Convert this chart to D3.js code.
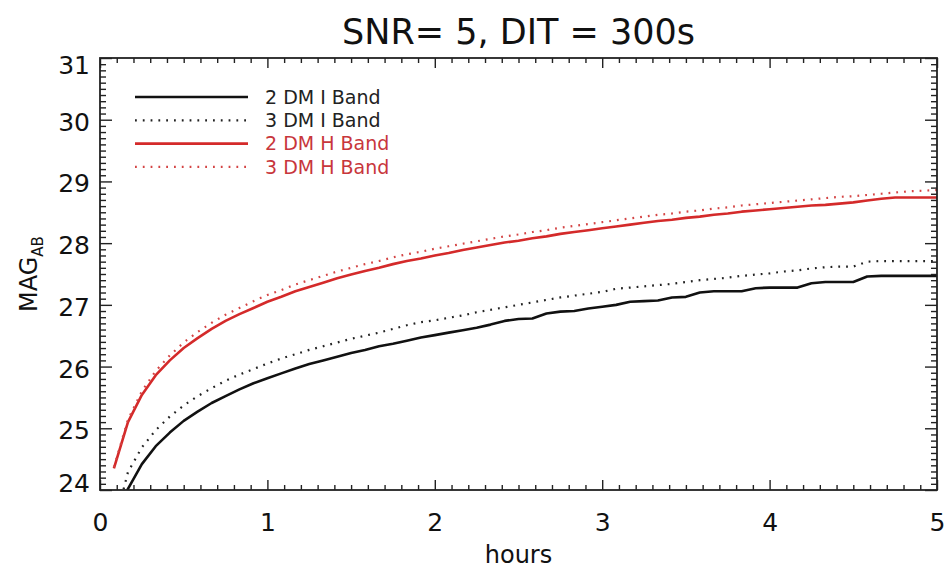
<!DOCTYPE html>
<html>
<head>
<meta charset="utf-8">
<script src="https://cdn.jsdelivr.net/npm/d3@7"></script>
<style>
  body { margin: 0; background: #fff; }
  text { font-family: "DejaVu Sans", sans-serif; }
</style>
</head>
<body>
<svg id="chart" width="945" height="571"></svg>
<script>
/// Exposure time in hours (one point per 300s DIT)
var hours = [0.083,0.167,0.250,0.333,0.417,0.500,0.583,0.667,0.750,0.833,
             0.917,1.000,1.083,1.167,1.250,1.333,1.417,1.500,1.583,1.667,
             1.750,1.833,1.917,2.000,2.083,2.167,2.250,2.333,2.417,2.500,
             2.583,2.667,2.750,2.833,2.917,3.000,3.083,3.167,3.250,3.333,
             3.417,3.500,3.583,3.667,3.750,3.833,3.917,4.000,4.083,4.167,
             4.250,4.333,4.417,4.500,4.583,4.667,4.750,4.833,4.917,5.000]

/// Limiting magnitudes
var dm2_I = [23.32,24.02,24.42,24.71,24.93,25.12,25.27,25.41,25.52,25.63,
             25.73,25.81,25.89,25.97,26.04,26.10,26.16,26.22,26.27,26.33,
             26.37,26.42,26.47,26.51,26.55,26.59,26.63,26.68,26.74,26.77,
             26.78,26.86,26.89,26.90,26.94,26.97,27.00,27.05,27.06,27.07,
             27.12,27.13,27.20,27.22,27.22,27.22,27.27,27.28,27.28,27.28,
             27.35,27.37,27.37,27.37,27.46,27.47,27.47,27.47,27.47,27.47]

var dm3_I = [23.40,24.29,24.69,24.97,25.19,25.37,25.52,25.65,25.77,25.87,
             25.96,26.05,26.13,26.20,26.27,26.33,26.39,26.45,26.50,26.55,
             26.61,26.67,26.72,26.75,26.79,26.83,26.88,26.92,26.96,27.00,
             27.04,27.08,27.12,27.15,27.18,27.21,27.26,27.28,27.30,27.32,
             27.34,27.37,27.40,27.42,27.44,27.47,27.49,27.51,27.54,27.56,
             27.59,27.61,27.62,27.62,27.70,27.71,27.71,27.71,27.71,27.71]

var dm2_H = [24.35,25.10,25.54,25.86,26.10,26.30,26.46,26.61,26.74,26.85,
             26.95,27.05,27.13,27.22,27.29,27.36,27.43,27.49,27.55,27.60,
             27.66,27.71,27.75,27.80,27.84,27.89,27.93,27.97,28.01,28.04,
             28.08,28.11,28.15,28.18,28.21,28.24,28.27,28.30,28.33,28.36,
             28.38,28.41,28.43,28.46,28.48,28.51,28.53,28.55,28.57,28.59,
             28.61,28.62,28.64,28.66,28.69,28.72,28.74,28.74,28.74,28.74]

var dm3_H = [24.37,25.14,25.60,25.93,26.18,26.39,26.56,26.71,26.84,26.95,
             27.06,27.16,27.24,27.33,27.40,27.47,27.54,27.60,27.66,27.71,
             27.77,27.82,27.86,27.91,27.95,27.99,28.03,28.07,28.11,28.14,
             28.18,28.21,28.25,28.28,28.31,28.34,28.37,28.40,28.43,28.46,
             28.48,28.51,28.53,28.56,28.58,28.61,28.63,28.65,28.67,28.69,
             28.71,28.73,28.75,28.76,28.78,28.80,28.82,28.84,28.85,28.86]

var seriesNames = ["2 DM I Band", "3 DM I Band", "2 DM H Band", "3 DM H Band"]
var xTicks = [0, 1, 2, 3, 4, 5]
var yTicks = [24, 25, 26, 27, 28, 29, 30, 31]

var title = "SNR= 5, DIT = 300s"

/// Plot box
var box = {left: 100, right: 937, top: 58, bottom: 490}

var x = d3.scaleLinear().domain([0, 5]).range([box.left, box.right])
var y = d3.scaleLinear().domain([24, 31]).range([box.bottom, box.top])

var svg = d3.select("#chart")

svg.append("defs").append("clipPath").attr("id", "clip")
    .append("rect")
    .attr("x", box.left).attr("y", box.top)
    .attr("width", box.right - box.left)
    .attr("height", box.bottom - box.top)

/// Series styles
var series = [
    {name: seriesNames[0], values: dm2_I, color: "#111", text: "#222", dash: null, width: 2.6},
    {name: seriesNames[1], values: dm3_I, color: "#222", text: "#222", dash: "1.8,6", width: 2.2},
    {name: seriesNames[2], values: dm2_H, color: "#d42a2a", text: "#c8363c", dash: null, width: 2.6},
    {name: seriesNames[3], values: dm3_H, color: "#d44444", text: "#c8363c", dash: "1.8,6", width: 2.2}
]

var line = d3.line()
    .x((d, i) => x(hours[i]))
    .y(d => y(d))

svg.append("g").attr("clip-path", "url(#clip)")
    .selectAll("path")
    .data(series)
    .enter()
    .append("path")
    .attr("d", s => line(s.values))
    .attr("fill", "none")
    .attr("stroke", s => s.color)
    .attr("stroke-width", s => s.width)
    .attr("stroke-dasharray", s => s.dash)
    .attr("stroke-linejoin", "round")

/// Axes: ticks point inward on all four sides
var xMinor = d3.range(0, 51).map(i => i / 10).filter(v => v % 1 !== 0)
var yMinor = d3.range(240, 311).map(i => i / 10).filter(v => v % 1 !== 0)

function styleAxis(g) {
    g.select(".domain").remove()
    g.selectAll("line").attr("stroke", "#222").attr("stroke-width", 1.4)
    g.selectAll("text").attr("font-size", 25).attr("fill", "#111")
        .attr("font-family", "DejaVu Sans, sans-serif")
}

svg.append("g").attr("transform", "translate(0," + box.bottom + ")")
    .call(d3.axisBottom(x).tickValues(xTicks).tickSize(-10).tickPadding(23).tickFormat(d3.format("d")))
    .call(styleAxis)
svg.append("g").attr("transform", "translate(0," + box.bottom + ")")
    .call(d3.axisBottom(x).tickValues(xMinor).tickSize(-5).tickFormat(""))
    .call(styleAxis)
svg.append("g").attr("transform", "translate(0," + box.top + ")")
    .call(d3.axisTop(x).tickValues(xTicks).tickSize(-10).tickFormat(""))
    .call(styleAxis)
svg.append("g").attr("transform", "translate(0," + box.top + ")")
    .call(d3.axisTop(x).tickValues(xMinor).tickSize(-5).tickFormat(""))
    .call(styleAxis)

svg.append("g").attr("transform", "translate(" + box.left + ",0)")
    .call(d3.axisLeft(y).tickValues(yTicks).tickSize(-12).tickPadding(10).tickFormat(d3.format("d")))
    .call(styleAxis)
    .selectAll("text")
    .attr("dy", d => d === 24 ? "0.05em" : d === 31 ? "0.6em" : "0.42em")
svg.append("g").attr("transform", "translate(" + box.left + ",0)")
    .call(d3.axisLeft(y).tickValues(yMinor).tickSize(-6).tickFormat(""))
    .call(styleAxis)
svg.append("g").attr("transform", "translate(" + box.right + ",0)")
    .call(d3.axisRight(y).tickValues(yTicks).tickSize(-12).tickFormat(""))
    .call(styleAxis)
svg.append("g").attr("transform", "translate(" + box.right + ",0)")
    .call(d3.axisRight(y).tickValues(yMinor).tickSize(-6).tickFormat(""))
    .call(styleAxis)

/// Frame
svg.append("rect")
    .attr("x", box.left).attr("y", box.top)
    .attr("width", box.right - box.left)
    .attr("height", box.bottom - box.top)
    .attr("fill", "none")
    .attr("stroke", "#222")
    .attr("stroke-width", 1.8)

/// Title and axis labels
svg.append("text")
    .attr("x", (box.left + box.right) / 2).attr("y", 44)
    .attr("text-anchor", "middle")
    .attr("font-size", 35)
    .attr("fill", "#111")
    .text(title)

svg.append("text")
    .attr("x", (box.left + box.right) / 2).attr("y", 563)
    .attr("text-anchor", "middle")
    .attr("font-size", 24)
    .attr("fill", "#111")
    .text("hours")

var ylab = svg.append("text")
    .attr("transform", "translate(37,312) rotate(-90)")
    .attr("font-size", 24)
    .attr("fill", "#111")
ylab.append("tspan").text("MAG")
ylab.append("tspan").attr("font-size", 15).attr("dy", 6).text("AB")

/// Legend
var legend = svg.append("g").selectAll("g")
    .data(series)
    .enter()
    .append("g")
    .attr("transform", (s, i) => "translate(0," + (97 + i * 23.3) + ")")

legend.append("line")
    .attr("x1", 135).attr("x2", 248)
    .attr("stroke", s => s.color)
    .attr("stroke-width", s => s.width)
    .attr("stroke-dasharray", s => s.dash)

legend.append("text")
    .attr("x", 265).attr("dy", "0.36em")
    .attr("font-size", 19)
    .attr("fill", s => s.text)
    .text(s => s.name)
</script>
</body>
</html>
